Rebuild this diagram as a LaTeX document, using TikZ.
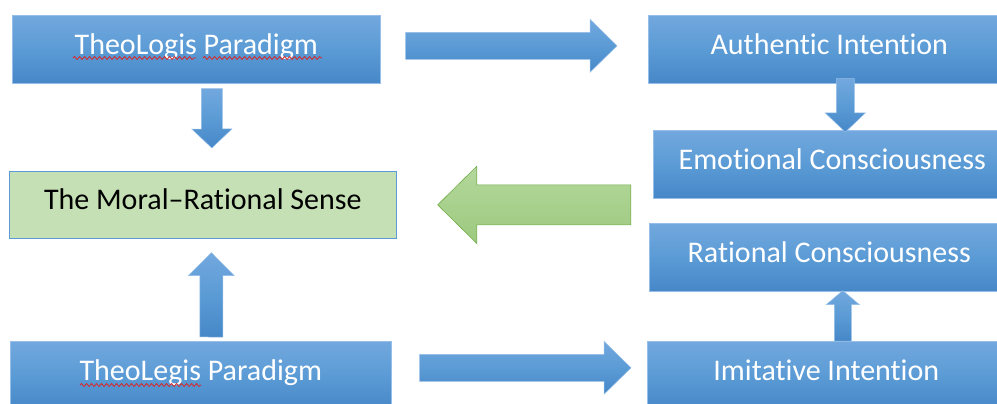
\documentclass[tikz,border=0pt]{standalone}
\usepackage{fontspec}
\setmainfont{Carlito}[Ligatures={NoCommon,NoContextual,NoRare}]
\usetikzlibrary{calc,decorations.pathmorphing}
\definecolor{bluetop}{RGB}{114,168,222}
\definecolor{bluemid}{RGB}{91,155,213}
\definecolor{bluebot}{RGB}{70,135,200}
\definecolor{blueedge}{RGB}{150,190,232}
\definecolor{boxline}{RGB}{91,155,213}
\definecolor{greenfill}{RGB}{197,224,180}
\definecolor{greentop}{RGB}{180,216,156}
\definecolor{greenbot}{RGB}{157,201,127}
\definecolor{greenedge}{RGB}{112,173,71}
\definecolor{spellred}{RGB}{215,40,40}
\newcommand{\blockarrow}[6][]{%
	\coordinate (ba-b) at ($(#3)!#6!(#2)$);
	\path[#1] ($(#2)!#4!90:(#3)$) -- ($(ba-b)!#4!-90:(#2)$) -- ($(ba-b)!#5!-90:(#2)$) -- (#3)
		-- ($(ba-b)!#5!90:(#2)$) -- ($(ba-b)!#4!90:(#2)$) -- ($(#2)!#4!-90:(#3)$) -- cycle;
}
\tikzset{
	boxtext/.style={font=\fontsize{30}{36}\selectfont, text height=18pt, text depth=8pt, inner sep=0pt, anchor=north west},
	bluebox/.style={boxtext, draw=blueedge, line width=0.6pt, top color=bluetop, bottom color=bluebot, middle color=bluemid, text=white, minimum height=68pt},
	greenbox/.style={boxtext, draw=boxline, line width=0.7pt, fill=greenfill, text=black, minimum height=67pt},
	bluearrow/.style={draw=blueedge, line width=0.5pt, top color=bluetop, bottom color=bluebot, middle color=bluemid},
	greenarrow/.style={draw=greenedge, line width=0.6pt, top color=greentop, bottom color=greenbot},
	spell/.style={spellred, line width=0.8pt, decorate, decoration={snake, amplitude=1.5pt, segment length=5pt}}
}
\begin{document}
\begin{tikzpicture}[x=1pt, y=-1pt]
	\useasboundingbox (0,0) rectangle (997,404);
	\clip (0,0) rectangle (997,404);
	\node[bluebox, minimum width=368pt] (theoA) at (12,15) {TheoLogis Paradigm};
	\node[bluebox, minimum width=362pt] (auth) at (648,15) {Authentic Intention};
	\node[bluebox, minimum width=358pt] (emot) at (653,130) {Emotional Consciousness};
	\node[greenbox, minimum width=387pt] (moral) at (9,171) {The Moral–Rational Sense};
	\node[bluebox, minimum width=360pt] (rat) at (649,223) {Rational Consciousness};
	\node[bluebox, minimum width=381pt] (theoB) at (10,341) {TheoLegis Paradigm};
	\node[bluebox, minimum width=358pt] (imit) at (647,341) {Imitative Intention};
	\draw[spell] (73,58) -- (196,58);
	\draw[spell] (203,58) -- (322,58);
	\draw[spell] (80,385) -- (201,385);
	\coordinate (a1s) at ($(theoA.east)+(25,-3.5)$);
	\coordinate (a1e) at ($(auth.west)+(-31,-3.5)$);
	\coordinate (a2s) at ($(theoA.south)+(15.5,5)$);
	\coordinate (a2e) at ($(moral.north)+(9,-23)$);
	\coordinate (a3s) at ($(auth.south)+(16,-5)$);
	\coordinate (a3e) at ($(emot.north)+(13,2)$);
	\coordinate (a4s) at ($(moral.east)+(234,0)$);
	\coordinate (a4e) at ($(moral.east)+(41,0)$);
	\coordinate (a5s) at ($(theoB.north)+(10.5,-4)$);
	\coordinate (a5e) at ($(moral.south)+(8.5,14)$);
	\coordinate (a6s) at ($(theoB.east)+(28,-7.5)$);
	\coordinate (a6e) at ($(imit.west)+(-16,-7.5)$);
	\coordinate (a7s) at ($(imit.north)+(16.5,0)$);
	\coordinate (a7e) at ($(rat.south)+(13.5,-1)$);
	\blockarrow[bluearrow]{a1s}{a1e}{13.5pt}{26.5pt}{27pt}
	\blockarrow[bluearrow]{a2s}{a2e}{10.5pt}{20pt}{19pt}
	\blockarrow[bluearrow]{a3s}{a3e}{9pt}{20pt}{19pt}
	\blockarrow[greenarrow]{a4s}{a4e}{20pt}{38.5pt}{39pt}
	\blockarrow[bluearrow]{a5s}{a5e}{11.5pt}{23pt}{23pt}
	\blockarrow[bluearrow]{a6s}{a6e}{13.5pt}{26.5pt}{27pt}
	\blockarrow[bluearrow]{a7s}{a7e}{8.5pt}{16.5pt}{14pt}
\end{tikzpicture}
\end{document}
